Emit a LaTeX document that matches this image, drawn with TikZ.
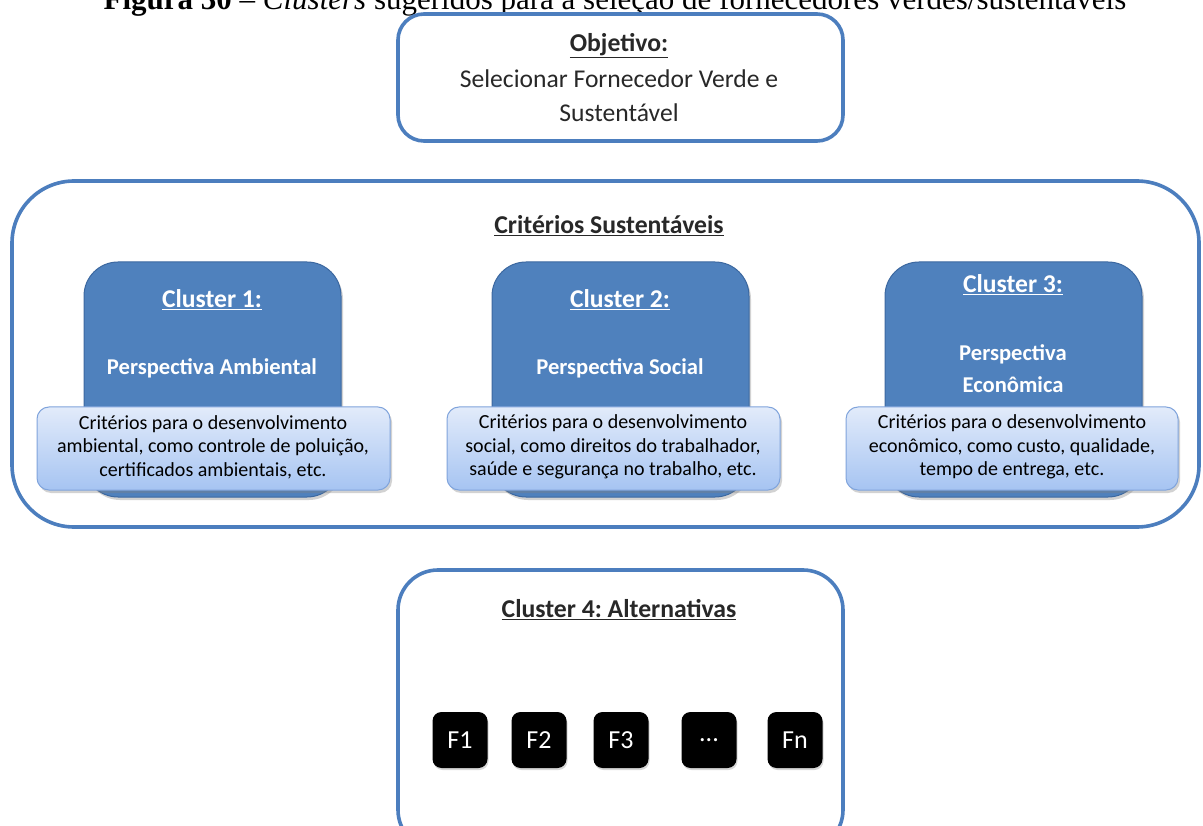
\documentclass[tikz,border=0pt]{standalone}
\usepackage{fontspec}
\setmainfont{Carlito}
\newfontfamily\capfont{Liberation Serif}
\usetikzlibrary{shadows}
\definecolor{frameblue}{RGB}{76,126,190}
\definecolor{clusterfill}{RGB}{79,129,189}
\definecolor{clusteredge}{RGB}{60,104,160}
\definecolor{notetop}{RGB}{226,235,250}
\definecolor{notebot}{RGB}{166,196,242}
\definecolor{noteedge}{RGB}{128,164,220}
\definecolor{textgray}{RGB}{40,40,40}
\frenchspacing
\begin{document}
\begin{tikzpicture}[x=1pt,y=-1pt,
  frame/.style={draw=frameblue,line width=3.6pt,rounded corners=#1,fill=white},
  clusterbox/.style={draw=clusteredge,line width=1pt,fill=clusterfill,rounded corners=34pt,
    drop shadow={shadow xshift=2pt,shadow yshift=-3pt,opacity=0.35}},
  notebox/.style={draw=noteedge,line width=1pt,top color=notetop,bottom color=notebot,rounded corners=12pt,
    drop shadow={shadow xshift=2pt,shadow yshift=-3pt,opacity=0.35}},
  fbox/.style={fill=black,rounded corners=9pt,minimum width=55pt,minimum height=56pt,inner sep=0pt,
    text=white,font=\fontsize{26}{28}\selectfont,
    drop shadow={shadow xshift=1pt,shadow yshift=-2pt,opacity=0.3}},
  title/.style={font=\fontsize{25.7}{30}\selectfont\bfseries,text=textgray},
  ctitle/.style={font=\fontsize{25.6}{30}\selectfont\bfseries,text=white},
  cbody/.style={font=\fontsize{22.6}{32}\selectfont\bfseries,text=white,align=center},
  note/.style={font=\fontsize{20}{23.5}\selectfont,text=black,align=center},
]
\useasboundingbox (0,0) rectangle (1203,826);
\begin{scope}
\clip (0,0) rectangle (1203,826);

% caption, partly above the page edge
\node[font=\capfont\fontsize{31}{34}\selectfont,anchor=base] (caption) at (615,10)
  {\textbf{Figura 30} – \textit{Clusters} sugeridos para a seleção de fornecedores verdes/sustentáveis};

% objective
\draw[frame=26pt] (398,14) rectangle (843,141);
\node[title] (obj) at (619,46) {\underline{Objetivo:}};
\node[font=\fontsize{25.6}{34}\selectfont,text=textgray,align=center] (objtext) at (619,96)
  {Selecionar Fornecedor Verde e\\Sustentável};

% sustainable criteria frame
\draw[frame=62pt] (12,181) rectangle (1199,527);
\node[title] (crit) at (609,226) {\underline{Critérios Sustentáveis}};

% three clusters
\foreach \cx in {212,620,1013}{
  \draw[clusterbox] (\cx-128,262) rectangle (\cx+129,497);
}
\node[ctitle] (c1t) at (212,300) {\underline{Cluster 1:}};
\node[cbody] (c1b) at (212,368) {Perspectiva Ambiental};
\node[ctitle] (c2t) at (620,300) {\underline{Cluster 2:}};
\node[cbody] (c2b) at (620,368) {Perspectiva Social};
\node[ctitle] (c3t) at (1013,285) {\underline{Cluster 3:}};
\node[cbody] (c3b) at (1013,369) {Perspectiva\\Econômica};

\draw[notebox] (37,407) rectangle (390,490);
\node[note] (n1) at (213,447) {Critérios para o desenvolvimento\\ambiental, como controle de poluição,\\certificados ambientais, etc.};
\draw[notebox] (447,407) rectangle (780,490);
\node[note] (n2) at (613,447) {Critérios para o desenvolvimento\\social, como direitos do trabalhador,\\saúde e segurança no trabalho, etc.};
\draw[notebox] (846,407) rectangle (1178,490);
\node[note] (n3) at (1012,447) {Critérios para o desenvolvimento\\econômico, como custo, qualidade,\\tempo de entrega, etc.};

% alternatives
\draw[frame=40pt] (398,570) rectangle (843,850);
\node[title] (alt) at (619,610) {\underline{Cluster 4: Alternativas}};
\node[fbox] (f1) at (460,740) {F1};
\node[fbox] (f2) at (539,740) {F2};
\node[fbox] (f3) at (621,740) {F3};
\node[fbox] (fd) at (709,740) {...};
\node[fbox] (fn) at (795,740) {Fn};
\end{scope}
\end{tikzpicture}
\end{document}
